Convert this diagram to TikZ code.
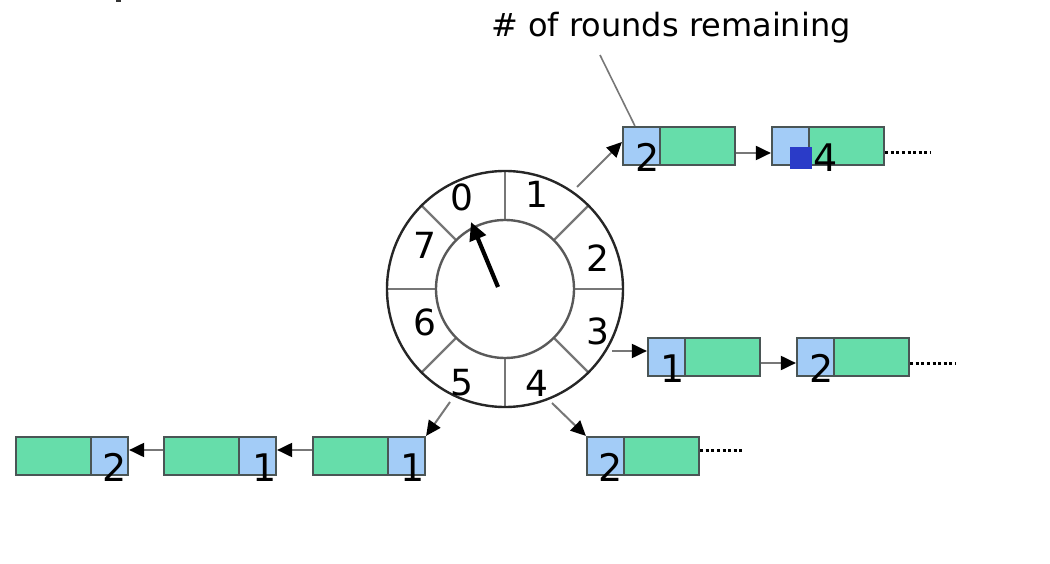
\documentclass[tikz,border=0pt]{standalone}
\usepackage{fontspec}
\setmainfont{DejaVu Sans}
\usetikzlibrary{arrows.meta,calc}
\definecolor{cellblue}{HTML}{A3CCF7}
\definecolor{cellgreen}{HTML}{66DDAA}
\definecolor{cellline}{HTML}{4A5555}
\definecolor{conn}{HTML}{777777}
\definecolor{marker}{HTML}{2A3BC8}
\tikzset{
  bluecell/.style={draw=cellline,line width=2.2pt,fill=cellblue,minimum width=37pt,minimum height=38pt,inner sep=0pt},
  greencell/.style={draw=cellline,line width=2.2pt,fill=cellgreen,minimum width=75pt,minimum height=38pt,inner sep=0pt},
  digit/.style={font=\fontsize{38}{40}\selectfont,anchor=base,inner sep=0pt},
  slotlabel/.style={font=\fontsize{36}{38}\selectfont,inner sep=0pt},
  link/.style={draw=conn,line width=2pt,-{Triangle[length=15pt,width=14pt,fill=black,color=black]}},
  trail/.style={draw=black,line width=3pt,dash pattern=on 3pt off 2.6pt},
  divider/.style={draw=conn,line width=2.2pt},
}
\begin{document}
\begin{tikzpicture}[x=1pt,y=-1pt]
\useasboundingbox (0,0) rectangle (1050,564);
% tiny cut-off mark
\fill[black!80] (116,0) rectangle (120.5,2);
% title
\node[font=\fontsize{32}{36}\selectfont,anchor=base,inner sep=0pt] (title) at (671,37) {\# of rounds remaining};
% wheel
\coordinate (c) at (505,289);
\foreach \a in {0,45,...,315}{
  \draw[divider] ($(c)+(-\a:70)$) -- ($(c)+(-\a:118)$);
}
\draw[draw=black!85,line width=2.4pt] (c) circle[radius=118];
\draw[draw=black!65,line width=2.4pt] (c) circle[radius=69];
\node[slotlabel] (l0) at (462,197) {0};
\node[slotlabel] (l1) at (537,194) {1};
\node[slotlabel] (l2) at (598,258) {2};
\node[slotlabel] (l3) at (598,331) {3};
\node[slotlabel] (l4) at (537,383) {4};
\node[slotlabel] (l5) at (462,383) {5};
\node[slotlabel] (l6) at (425,322) {6};
\node[slotlabel] (l7) at (425,245) {7};
% hand
\coordinate (h0) at (498,287);
\coordinate (h1) at (471,222);
\draw[line width=4.2pt,-{Triangle[length=18pt,width=17pt]}] (h0) -- (h1);
% top chain
\node[bluecell] (b1) at (641.5,146) {};
\node[greencell] (g1) at (697.5,146) {};
\node[bluecell] (b2) at (790.5,146) {};
\node[greencell] (g2) at (846.5,146) {};
\fill[marker] (790,147) rectangle (812,169);
\node[digit] (d1) at (648,172) {2};
\node[digit] (d2) at (826,172) {4};
% row 3
\node[bluecell] (b3) at (666.5,357) {};
\node[greencell] (g3) at (722.5,357) {};
\node[bluecell] (b4) at (815.5,357) {};
\node[greencell] (g4) at (871.5,357) {};
\node[digit] (d3) at (673,382) {1};
\node[digit] (d4) at (822,382) {2};
% row 4
\node[bluecell] (b5) at (605.5,456) {};
\node[greencell] (g5) at (661.5,456) {};
\node[digit] (d5) at (611,481) {2};
% bottom-left chain
\node[greencell] (gA) at (53.5,456) {};
\node[bluecell] (bA) at (109.5,456) {};
\node[greencell] (gB) at (201.5,456) {};
\node[bluecell] (bB) at (257.5,456) {};
\node[greencell] (gC) at (350.5,456) {};
\node[bluecell] (bC) at (406.5,456) {};
\node[digit] (dA) at (115,481) {2};
\node[digit] (dB) at (265,481) {1};
\node[digit] (dC) at (413,481) {1};
% connectors
\coordinate (s1) at (577,187);
\coordinate (s3) at (612,351);
\coordinate (s4) at (552,403);
\coordinate (s5) at (450,402);
\draw[link] (s1) -- ([yshift=4pt]b1.west);
\draw[link] ([yshift=-7pt]g1.east) -- ([yshift=-7pt]b2.west);
\draw[link] (s3) -- ([yshift=6pt]b3.west);
\draw[link] ([yshift=-6pt]g3.east) -- ([yshift=-6pt]b4.west);
\draw[link] (s4) -- (b5.north west);
\draw[link] (s5) -- (bC.north east);
\draw[link] ([yshift=6pt]gC.west) -- ([yshift=6pt]bB.east);
\draw[link] ([yshift=6pt]gB.west) -- ([yshift=6pt]bA.east);
% trailing dots
\coordinate (e2) at (930,153);
\coordinate (e4) at (955,363);
\coordinate (e5) at (744,450);
\draw[trail] ([yshift=-7pt]g2.east) -- (e2);
\draw[trail] ([yshift=-6pt]g4.east) -- (e4);
\draw[trail] ([yshift=6pt]g5.east) -- (e5);
% title pointer
\coordinate (t0) at (600,55);
\draw[draw=conn,line width=1.6pt] (t0) -- ([xshift=13pt]b1.north west);
\end{tikzpicture}
\end{document}
